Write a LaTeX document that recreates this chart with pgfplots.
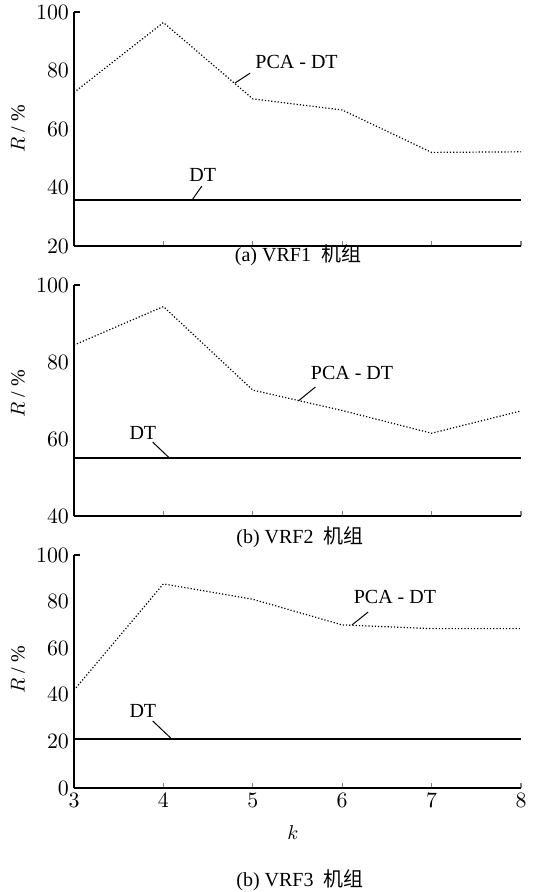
\documentclass[border=0pt]{standalone}
\usepackage{pgfplots}
\pgfplotsset{compat=1.18}
\usepackage{fontspec}
\setmainfont{Liberation Serif}
\newfontfamily\cjk{Noto Sans CJK SC}
\pgfplotsset{myax/.style={
  scale only axis, width=223.5pt, xmin=3, xmax=8, xtick={3,4,5,6,7,8},
  axis x line*=bottom, axis y line*=left,
  tick align=inside, major tick length=2.5pt,
  ytick style={draw=none},
  axis line style={line width=0.8pt},
  tick style={line width=0.6pt},
  clip=false,
  tick label style={font=\fontsize{10.5}{12}\selectfont},
  xticklabel style={yshift=1pt},
  yticklabel style={xshift=1pt},
}}
\tikzset{pca/.style={black, line width=0.6pt, dash pattern=on 0.6pt off 1pt},
  dt/.style={black, line width=0.9pt}}
\begin{document}
\begin{tikzpicture}
% Panel (a)
\begin{axis}[myax, at={(37pt,-123pt)}, anchor=south west, height=117pt,
  ymin=20, ymax=100, ytick={20,40,60,80,100}, xticklabels={}]
\addplot[pca] coordinates {(3,72.5) (4,96.4) (5,70.3) (6,66.5) (7,52) (8,52.2)};
\addplot[dt] coordinates {(3,35.6) (8,35.6)};
\draw[line width=0.6pt] (axis cs:3,100) -- ++(3pt,0pt);
\draw[line width=0.5pt] (axis cs:4.80,75.7) -- (axis cs:4.97,79.1);
\draw[line width=0.5pt] (axis cs:4.32,35.7) -- (axis cs:4.43,40.5);
\node at (axis cs:5.49,82.9) {PCA - DT};
\node at (axis cs:4.44,44.3) {DT};
\end{axis}
% Panel (b)
\begin{axis}[myax, at={(37pt,-258pt)}, anchor=south west, height=115.5pt,
  ymin=40, ymax=100, ytick={40,60,80,100}, xticklabels={}]
\addplot[pca] coordinates {(3,84.4) (4,94.4) (5,72.7) (6,67.4) (7,61.5) (8,67.3)};
\addplot[dt] coordinates {(3,55) (8,55)};
\draw[line width=0.6pt] (axis cs:3,100) -- ++(3pt,0pt);
\draw[line width=0.5pt] (axis cs:5.51,69.9) -- (axis cs:5.70,73.5);
\draw[line width=0.5pt] (axis cs:3.88,59.2) -- (axis cs:4.07,55);
\node at (axis cs:6.11,77.1) {PCA - DT};
\node at (axis cs:3.77,61.6) {DT};
\end{axis}
% Panel (c)
\begin{axis}[myax, at={(37pt,-394pt)}, anchor=south west, height=116.5pt,
  ymin=0, ymax=100, ytick={0,20,40,60,80,100}]
\addplot[pca] coordinates {(3,42) (4,87.6) (5,81) (6,70) (7,68.4) (8,68.4)};
\addplot[dt] coordinates {(3,21) (8,21)};
\draw[line width=0.6pt] (axis cs:3,100) -- ++(3pt,0pt);
\draw[line width=0.5pt] (axis cs:6.11,70) -- (axis cs:6.29,75.5);
\draw[line width=0.5pt] (axis cs:3.88,28.8) -- (axis cs:4.08,21.5);
\node at (axis cs:6.59,82) {PCA - DT};
\node at (axis cs:3.77,33) {DT};
\end{axis}
% y labels
\node[rotate=90] at (9pt,-64.5pt) {$R$ / \%};
\node[rotate=90] at (9pt,-197pt) {$R$ / \%};
\node[rotate=90] at (9pt,-335pt) {$R$ / \%};
% x label
\node at (146.5pt,-416.5pt) {$k$};
% captions
\node at (149pt,-127.5pt) {(a) VRF1\enspace{\cjk 机组}};
\node at (150pt,-268.5pt) {(b) VRF2\enspace{\cjk 机组}};
\node at (150pt,-440pt) {(b) VRF3\enspace{\cjk 机组}};
\pgfresetboundingbox
\path (0,0) rectangle (266.5pt,-446pt);
\end{tikzpicture}
\end{document}
